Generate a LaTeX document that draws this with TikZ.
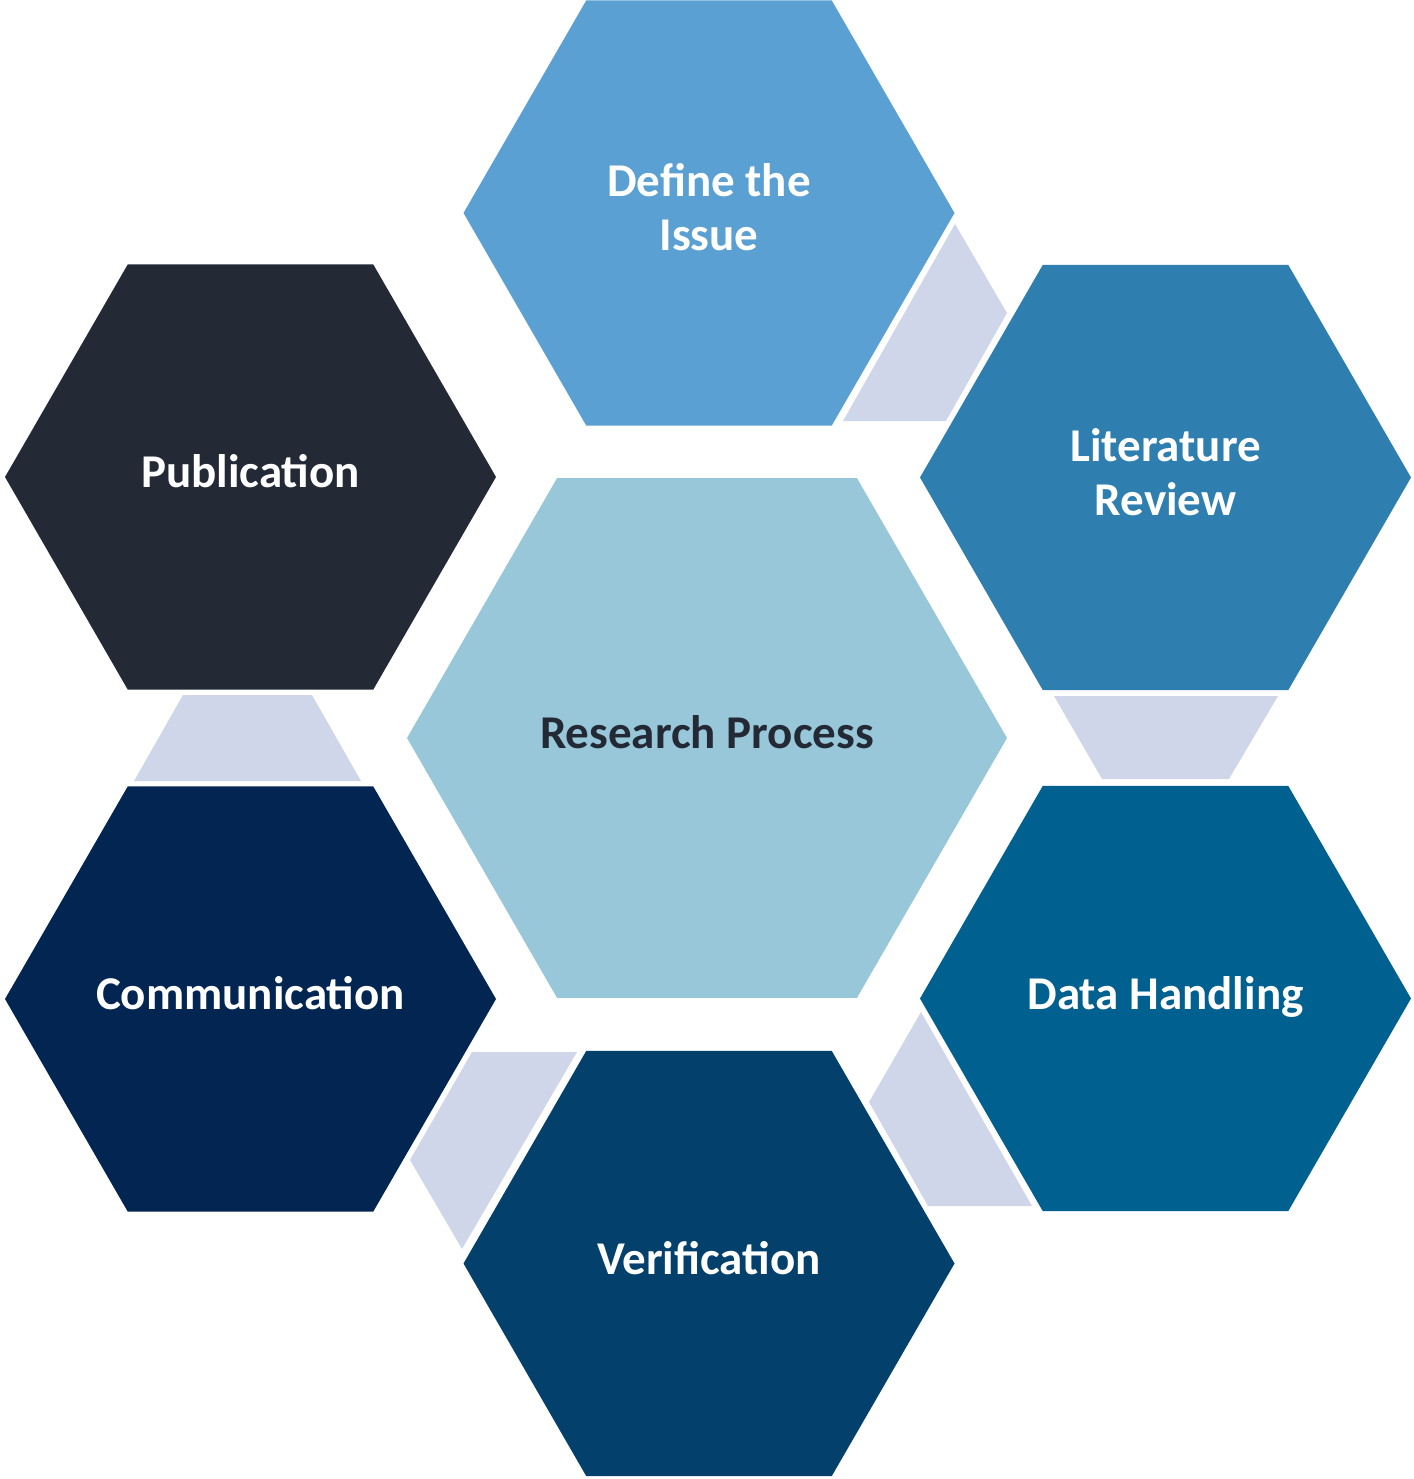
\documentclass[tikz,border=0pt]{standalone}
\usepackage{fontspec}
\setmainfont{Carlito}
\usetikzlibrary{shapes.geometric}
\definecolor{cDefine}{HTML}{5BA0D3}
\definecolor{cLit}{HTML}{2E7EB0}
\definecolor{cData}{HTML}{00608F}
\definecolor{cVerif}{HTML}{03416C}
\definecolor{cComm}{HTML}{022651}
\definecolor{cPub}{HTML}{232A35}
\definecolor{cCenter}{HTML}{97C7D8}
\definecolor{cLink}{HTML}{D0D6EA}
\newcommand{\hextext}[1]{\raisebox{-3pt}{\makebox[0pt]{\begin{tabular}{@{}c@{}}#1\end{tabular}}}}
\tikzset{
  hexa/.style={regular polygon, regular polygon sides=6, minimum size=491pt,
    inner sep=0pt, outer sep=0pt, draw=none, text=white,
    font=\fontsize{47}{54}\selectfont\bfseries},
  bighex/.style={hexa, minimum size=600pt, text=cPub},
  linkshape/.style={fill=cLink, draw=none}
}
\begin{document}
\begin{tikzpicture}[x=1pt,y=-1pt]
\useasboundingbox (0,0) rectangle (1413,1479);
% connector pieces
\path[linkshape] (955,224) -- (1007,313) -- (946,421) -- (843,421) -- cycle;
\path[linkshape] (1054,696) -- (1278,696) -- (1229,779) -- (1102,779) -- cycle;
\path[linkshape] (921,1012) -- (869,1102) -- (928,1206) -- (1032,1206) -- cycle;
\path[linkshape] (472,1052) -- (577,1052) -- (462,1249) -- (410,1160) -- cycle;
\path[linkshape] (183,695) -- (312,695) -- (361,781) -- (134,781) -- cycle;
% hexagons
\node[bighex, fill=cCenter] (center) at (707,738) {\hextext{Research Process}};
\node[hexa, fill=cDefine] (define) at (709,213) {\hextext{Define the\\Issue}};
\node[hexa, fill=cLit] (lit) at (1165.5,477.5) {\hextext{Literature\\Review}};
\node[hexa, fill=cData] (data) at (1165.5,998.5) {\hextext{Data Handling}};
\node[hexa, fill=cVerif] (verif) at (709,1263.5) {\hextext{Verification}};
\node[hexa, fill=cComm] (comm) at (250.5,999) {\hextext{Communication}};
\node[hexa, fill=cPub] (pub) at (250.5,477) {\hextext{Publication}};
\end{tikzpicture}
\end{document}
